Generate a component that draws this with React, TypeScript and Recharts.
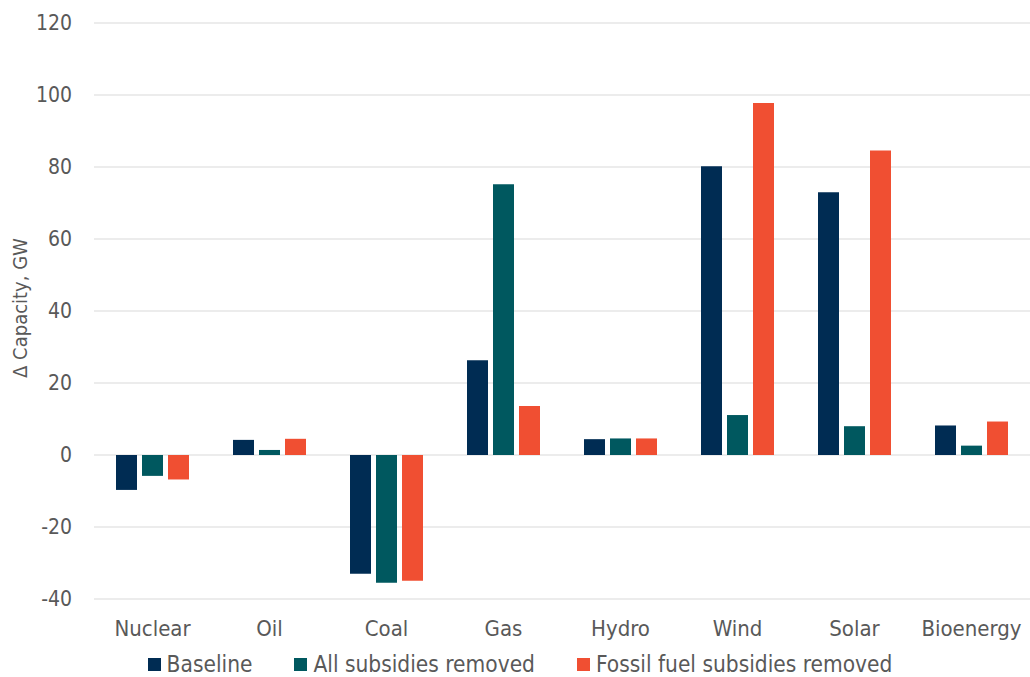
import React from "react";
import { BarChart, Bar, XAxis, YAxis, CartesianGrid } from "recharts";

const categories = ["Nuclear", "Oil", "Coal", "Gas", "Hydro", "Wind", "Solar", "Bioenergy"];
const baseline = [-9.7, 4.2, -33.0, 26.3, 4.4, 80.2, 73.0, 8.2];
const allRemoved = [-5.8, 1.4, -35.5, 75.2, 4.6, 11.1, 8.0, 2.6];
const fossilRemoved = [-6.8, 4.5, -34.9, 13.6, 4.6, 97.8, 84.6, 9.3];
const yTicks = [-40, -20, 0, 20, 40, 60, 80, 100, 120];

const seriesNames = ["Baseline", "All subsidies removed", "Fossil fuel subsidies removed"];
const seriesColors = ["#002C53", "#00585F", "#F04F32"];

const data = categories.map((c, i) => ({
  name: c,
  baseline: baseline[i],
  allRemoved: allRemoved[i],
  fossilRemoved: fossilRemoved[i],
}));

const FONT = "'DejaVu Sans Condensed', 'DejaVu Sans', Verdana, sans-serif";
const TEXT = "#595959";

const YLabel = (props: any) => {
  const vb = props.viewBox || { x: 0, y: 0, width: 94, height: 576 };
  const cx = vb.x + 20;
  const cy = vb.y + vb.height / 2 - 3;
  return (
    <text
      x={cx}
      y={cy}
      transform={`rotate(-90, ${cx}, ${cy})`}
      textAnchor="middle"
      dominantBaseline="central"
      fill={TEXT}
      fontSize={20}
      fontFamily={FONT}
    >
      Δ Capacity, GW
    </text>
  );
};

const LegendRow = () => (
  <div
    style={{
      position: "absolute",
      left: 0,
      top: 653,
      width: 1030,
      height: 23,
      display: "flex",
      justifyContent: "center",
      alignItems: "center",
      paddingLeft: 10,
      boxSizing: "border-box",
      fontFamily: FONT,
      fontSize: 22.5,
      color: TEXT,
      lineHeight: "23px",
    }}
  >
    {seriesNames.map((n, i) => (
      <div key={n} style={{ display: "flex", alignItems: "center", marginRight: i < 2 ? 42 : 0 }}>
        <span
          style={{ display: "inline-block", width: 13, height: 13, background: seriesColors[i], marginRight: 6 }}
        />
        <span>{n}</span>
      </div>
    ))}
  </div>
);

export default function App() {
  return (
    <div style={{ position: "absolute", left: 0, top: 0, width: 1030, height: 677, background: "#fff", overflow: "hidden" }}>
      <BarChart
        width={1030}
        height={677}
        data={data}
        margin={{ top: 23, right: 0, bottom: 48, left: 0 }}
        barSize={21}
        barGap={5}
      >
        <CartesianGrid vertical={false} stroke="#D9D9D9" strokeWidth={1} />
        <XAxis
          dataKey="name"
          height={30}
          axisLine={false}
          tickLine={false}
          tickSize={0}
          tickMargin={21}
          interval={0}
          tick={{ fill: TEXT, fontSize: 22, fontFamily: FONT }}
        />
        <YAxis
          width={94}
          domain={[-40, 120]}
          ticks={yTicks}
          axisLine={false}
          tickLine={false}
          tickSize={0}
          tickMargin={22}
          tick={{ fill: TEXT, fontSize: 21, fontFamily: FONT }}
          label={<YLabel />}
        />
        <Bar dataKey="baseline" name={seriesNames[0]} fill={seriesColors[0]} isAnimationActive={false} />
        <Bar dataKey="allRemoved" name={seriesNames[1]} fill={seriesColors[1]} isAnimationActive={false} />
        <Bar dataKey="fossilRemoved" name={seriesNames[2]} fill={seriesColors[2]} isAnimationActive={false} />
      </BarChart>
      <LegendRow />
    </div>
  );
}
